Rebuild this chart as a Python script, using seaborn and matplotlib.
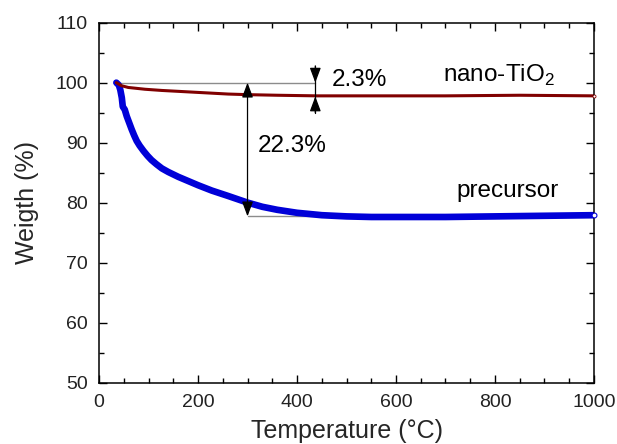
import numpy as np
import pandas as pd
import matplotlib
matplotlib.use("Agg")
import matplotlib.pyplot as plt
from matplotlib.ticker import MultipleLocator
import seaborn as sns

# TGA curves: temperature (°C) vs. remaining weight (%)
precursor_temp = [35, 40, 43, 46, 48, 52, 56, 61, 66, 71, 76, 82, 90, 98, 106,
                  116, 127, 140, 160, 180, 200, 228, 261, 300, 330, 360, 400,
                  450, 500, 550, 600, 700, 800, 900, 1000]
precursor_weight = [100.0, 99.6, 98.8, 97.5, 96.0, 95.5, 94.4, 93.3, 92.2, 91.2,
                    90.3, 89.5, 88.6, 87.8, 87.1, 86.4, 85.7, 85.1, 84.3, 83.6,
                    82.9, 82.0, 81.1, 80.0, 79.3, 78.8, 78.3, 77.9, 77.7, 77.6,
                    77.6, 77.6, 77.7, 77.8, 77.9]

tio2_temp = [35, 45, 59, 93, 127, 194, 261, 300, 360, 440, 550, 700, 850, 1000]
tio2_weight = [100.0, 99.5, 99.2, 98.9, 98.7, 98.4, 98.1, 98.0, 97.9, 97.8,
               97.8, 97.8, 97.9, 97.8]

labels = ["precursor", "nano-TiO$_2$"]
total_loss = 22.3   # %
tio2_loss = 2.3     # %

sns.set_style("ticks")
plt.rcParams["font.family"] = ["Liberation Sans", "DejaVu Sans"]
plt.rcParams["mathtext.fontset"] = "custom"
plt.rcParams["mathtext.rm"] = "Liberation Sans"

fig = plt.figure(figsize=(6.17, 4.44), dpi=100)
ax = fig.add_axes([0.1605, 0.1385, 0.8022, 0.8104])

prec = pd.DataFrame({"T": precursor_temp, "W": precursor_weight})
tio2 = pd.DataFrame({"T": tio2_temp, "W": tio2_weight})

sns.lineplot(data=prec, x="T", y="W", ax=ax, color="#0000d8", lw=4.8,
             sort=False, estimator=None, solid_capstyle="round")
sns.lineplot(data=tio2, x="T", y="W", ax=ax, color="#800000", lw=2.2,
             sort=False, estimator=None, solid_capstyle="round")
# open end markers
ax.plot(prec["T"].iloc[-1], prec["W"].iloc[-1], "o", ms=3.5, mfc="white",
        mec="#0000d8", mew=0.8, zorder=5, clip_on=False)
ax.plot(tio2["T"].iloc[-1], tio2["W"].iloc[-1], "o", ms=2.2, mfc="white",
        mec="#800000", mew=0.6, zorder=5, clip_on=False)

# reference lines for the weight-loss arrows
start_w = prec["W"].iloc[0]
x_big, x_small = 300, 437
ax.plot([35, x_small], [start_w, start_w], color="#8c8c8c", lw=1, zorder=1)
ax.plot([x_big, 520], [start_w - total_loss] * 2, color="#8c8c8c", lw=1, zorder=1)

arrow_style = "-|>,head_length=0.75,head_width=0.28"
# total loss: double-headed arrow
ax.annotate("", xy=(x_big, start_w), xytext=(x_big, start_w - total_loss),
            arrowprops=dict(arrowstyle="<|-|>,head_length=0.75,head_width=0.28",
                            color="black", lw=0.9, shrinkA=0, shrinkB=0,
                            mutation_scale=12))
# TiO2 loss: two arrows pointing inward
ax.plot([x_small, x_small], [95.0, 102.8], color="black", lw=0.9)
ax.annotate("", xy=(x_small, start_w), xytext=(x_small, 102.8),
            arrowprops=dict(arrowstyle=arrow_style, color="black", lw=0.9,
                            shrinkA=0, shrinkB=0, mutation_scale=12))
ax.annotate("", xy=(x_small, start_w - tio2_loss), xytext=(x_small, 95.0),
            arrowprops=dict(arrowstyle=arrow_style, color="black", lw=0.9,
                            shrinkA=0, shrinkB=0, mutation_scale=12))

txt = dict(fontsize=17.5, color="black")
ax.text(470, 100.4, f"{tio2_loss}%", va="center", ha="left", **txt)
ax.text(320, 89.4, f"{total_loss}%", va="center", ha="left", **txt)
ax.text(695, 101.2, labels[1], va="center", ha="left", **txt)
ax.text(723, 81.9, labels[0], va="center", ha="left", **txt)

ax.set_xlim(0, 1000)
ax.set_ylim(50, 110)
ax.xaxis.set_major_locator(MultipleLocator(200))
ax.xaxis.set_minor_locator(MultipleLocator(50))
ax.yaxis.set_major_locator(MultipleLocator(10))
ax.yaxis.set_minor_locator(MultipleLocator(5))
ax.tick_params(which="both", direction="in", top=True, right=True,
               width=1, color="black", labelsize=14, labelcolor="#222222")
ax.tick_params(which="major", length=5.8, pad=8)
ax.tick_params(which="minor", length=3.6)
for s in ax.spines.values():
    s.set_linewidth(1.1)
    s.set_color("black")

ax.set_xlabel("Temperature (°C)", fontsize=18, labelpad=6)
ax.set_ylabel("Weigth (%)", fontsize=18, labelpad=12)

fig.savefig("out.png", dpi=100)
